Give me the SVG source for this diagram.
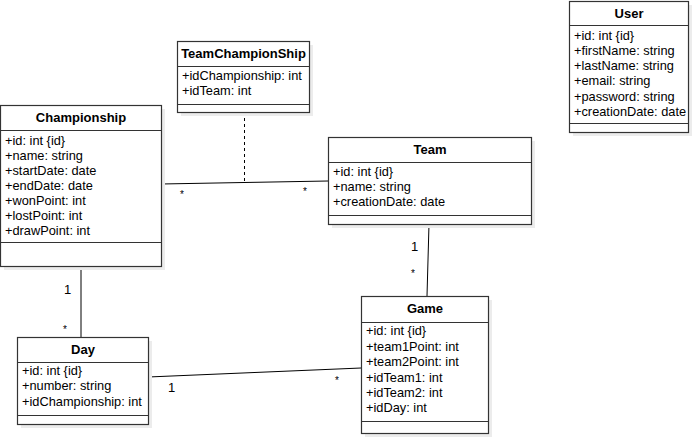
<svg xmlns="http://www.w3.org/2000/svg" width="699" height="440" viewBox="0 0 699 440">
<style>
.box{fill:#ffffff;stroke:#333333;stroke-width:1.2}
.sh{fill:#ececec}
.sep{stroke:#333333;stroke-width:1.2}
.h{font-family:"Liberation Sans",Arial,sans-serif;font-size:13px;font-weight:bold;text-anchor:middle;fill:#000}
.a{font-family:"Liberation Sans",Arial,sans-serif;font-size:12.8px;fill:#000}
.conn{stroke:#000;stroke-width:1;fill:none}
.lbl{font-family:"Liberation Sans",Arial,sans-serif;font-size:13px;fill:#000}
.st{font-family:"Liberation Sans",Arial,sans-serif;font-size:10px;fill:#000}
</style>
<rect width="699" height="440" fill="#ffffff"/>
<g id="connectors">
<line class="conn" x1="161" y1="184" x2="328" y2="181"/>
<line class="conn" x1="244.5" y1="112" x2="244.5" y2="183" stroke-dasharray="3,3"/>
<line class="conn" x1="429" y1="224" x2="427" y2="296"/>
<line class="conn" x1="81" y1="266" x2="81" y2="337"/>
<line class="conn" x1="148" y1="377" x2="361" y2="368"/>
<text class="st" x="180" y="198">*</text>
<text class="st" x="303" y="195">*</text>
<text class="lbl" x="411" y="251">1</text>
<text class="st" x="411" y="277">*</text>
<text class="lbl" x="64" y="294">1</text>
<text class="st" x="63" y="333">*</text>
<text class="lbl" x="168" y="392">1</text>
<text class="st" x="335" y="384">*</text>
</g>
<g id="Championship">
<rect class="sh" x="4" y="109" width="161" height="161"/>
<rect class="box" x="0.5" y="105.5" width="161" height="161"/>
<line class="sep" x1="0.5" y1="130.5" x2="161.5" y2="130.5"/>
<line class="sep" x1="0.5" y1="242.5" x2="161.5" y2="242.5"/>
<text class="h" x="81" y="122">Championship</text>
<text class="a" x="5" y="145">+id: int {id}</text>
<text class="a" x="5" y="160">+name: string</text>
<text class="a" x="5" y="175">+startDate: date</text>
<text class="a" x="5" y="190">+endDate: date</text>
<text class="a" x="5" y="205">+wonPoint: int</text>
<text class="a" x="5" y="220">+lostPoint: int</text>
<text class="a" x="5" y="235">+drawPoint: int</text>
</g>
<g id="TeamChampionShip">
<rect class="sh" x="181" y="45" width="132" height="71"/>
<rect class="box" x="177.5" y="41.5" width="132" height="71"/>
<line class="sep" x1="177.5" y1="66.5" x2="309.5" y2="66.5"/>
<line class="sep" x1="177.5" y1="104.5" x2="309.5" y2="104.5"/>
<text class="h" x="243.5" y="58">TeamChampionShip</text>
<text class="a" x="182" y="80">+idChampionship: int</text>
<text class="a" x="182" y="95">+idTeam: int</text>
</g>
<g id="Team">
<rect class="sh" x="332" y="141" width="203" height="87"/>
<rect class="box" x="328.5" y="137.5" width="203" height="87"/>
<line class="sep" x1="328.5" y1="162.5" x2="531.5" y2="162.5"/>
<line class="sep" x1="328.5" y1="215.5" x2="531.5" y2="215.5"/>
<text class="h" x="430" y="154">Team</text>
<text class="a" x="333" y="176">+id: int {id}</text>
<text class="a" x="333" y="191">+name: string</text>
<text class="a" x="333" y="206">+creationDate: date</text>
</g>
<g id="Game">
<rect class="sh" x="365" y="300" width="127" height="137"/>
<rect class="box" x="361.5" y="296.5" width="127" height="137"/>
<line class="sep" x1="361.5" y1="322.5" x2="488.5" y2="322.5"/>
<line class="sep" x1="361.5" y1="421.5" x2="488.5" y2="421.5"/>
<text class="h" x="425" y="313">Game</text>
<text class="a" x="366" y="335">+id: int {id}</text>
<text class="a" x="366" y="351">+team1Point: int</text>
<text class="a" x="366" y="366">+team2Point: int</text>
<text class="a" x="366" y="382">+idTeam1: int</text>
<text class="a" x="366" y="397">+idTeam2: int</text>
<text class="a" x="366" y="412">+idDay: int</text>
</g>
<g id="Day">
<rect class="sh" x="21" y="341" width="131" height="87"/>
<rect class="box" x="17.5" y="337.5" width="131" height="87"/>
<line class="sep" x1="17.5" y1="362.5" x2="148.5" y2="362.5"/>
<line class="sep" x1="17.5" y1="415.5" x2="148.5" y2="415.5"/>
<text class="h" x="83" y="354">Day</text>
<text class="a" x="22" y="375">+id: int {id}</text>
<text class="a" x="22" y="390">+number: string</text>
<text class="a" x="22" y="406">+idChampionship: int</text>
</g>
<g id="User">
<rect class="sh" x="573" y="5" width="119" height="131"/>
<rect class="box" x="569.5" y="1.5" width="119" height="131"/>
<line class="sep" x1="569.5" y1="25.5" x2="688.5" y2="25.5"/>
<line class="sep" x1="569.5" y1="123.5" x2="688.5" y2="123.5"/>
<text class="h" x="629" y="18">User</text>
<text class="a" x="574" y="40">+id: int {id}</text>
<text class="a" x="574" y="55">+firstName: string</text>
<text class="a" x="574" y="70">+lastName: string</text>
<text class="a" x="574" y="85">+email: string</text>
<text class="a" x="574" y="101">+password: string</text>
<text class="a" x="574" y="116">+creationDate: date</text>
</g>
</svg>
